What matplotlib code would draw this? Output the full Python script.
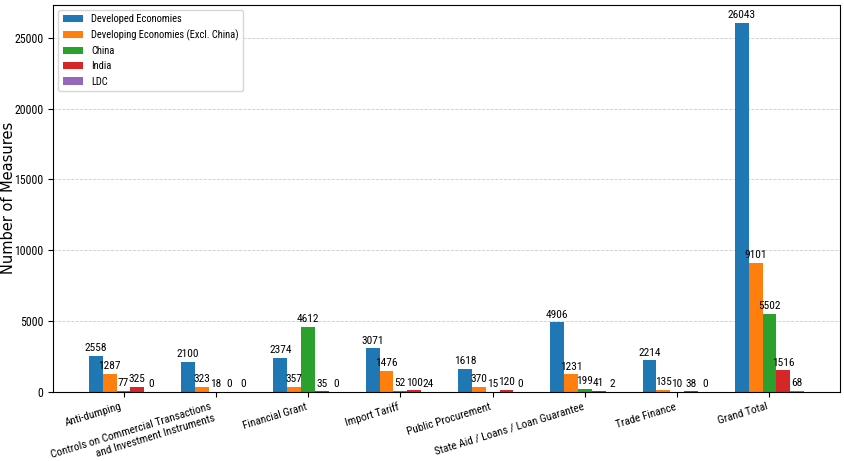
import numpy as np
import matplotlib
matplotlib.use("Agg")
import matplotlib.pyplot as plt
from matplotlib import font_manager

categories = [
    "Anti-dumping",
    "Controls on Commercial Transactions\nand Investment Instruments",
    "Financial Grant",
    "Import Tariff",
    "Public Procurement",
    "State Aid / Loans / Loan Guarantee",
    "Trade Finance",
    "Grand Total",
]
series_names = [
    "Developed Economies",
    "Developing Economies (Excl. China)",
    "China",
    "India",
    "LDC",
]
developed = [2558, 2100, 2374, 3071, 1618, 4906, 2214, 26043]
developing = [1287, 323, 357, 1476, 370, 1231, 135, 9101]
china = [77, 18, 4612, 52, 15, 199, 10, 5502]
india = [325, 0, 35, 100, 120, 41, 38, 1516]
ldc = [0, 0, 0, 24, 0, 2, 0, 68]

series = [developed, developing, china, india, ldc]
colors = ["#1f77b4", "#ff7f0e", "#2ca02c", "#d62728", "#9467bd"]

# prefer a narrow sans face when one is installed
installed = {f.name for f in font_manager.fontManager.ttflist}
FONT = ["DejaVu Sans"]
for cand in ["Liberation Sans Narrow", "Roboto Condensed", "Liberation Sans", "Roboto"]:
    if cand in installed:
        FONT = [cand, "DejaVu Sans"]
        break
plt.rcParams["font.family"] = FONT

fig, ax = plt.subplots(figsize=(8.44, 4.61), dpi=100)
x = np.arange(len(categories))
width = 0.15
for i, (name, vals, c) in enumerate(zip(series_names, series, colors)):
    bars = ax.bar(x + (i - 2) * width, vals, width, label=name, color=c)
    ax.bar_label(bars, padding=2, fontsize=8.2)

ax.set_xticks(x)
ax.set_xticklabels(categories, rotation=17, ha="right", fontsize=8.1)
ax.tick_params(axis="y", labelsize=8.6)
ax.set_ylabel("Number of Measures", fontsize=10.5, family="DejaVu Sans")
ax.yaxis.set_label_coords(-0.047, 0.5)
ax.yaxis.grid(True, linestyle="--", color="#cccccc", linewidth=0.6)
ax.set_axisbelow(True)
ax.legend(loc="upper left", fontsize=7.6, handlelength=1.9)
fig.subplots_adjust(left=0.063, right=0.995, top=0.99, bottom=0.15)
fig.savefig("out.png", dpi=100)
